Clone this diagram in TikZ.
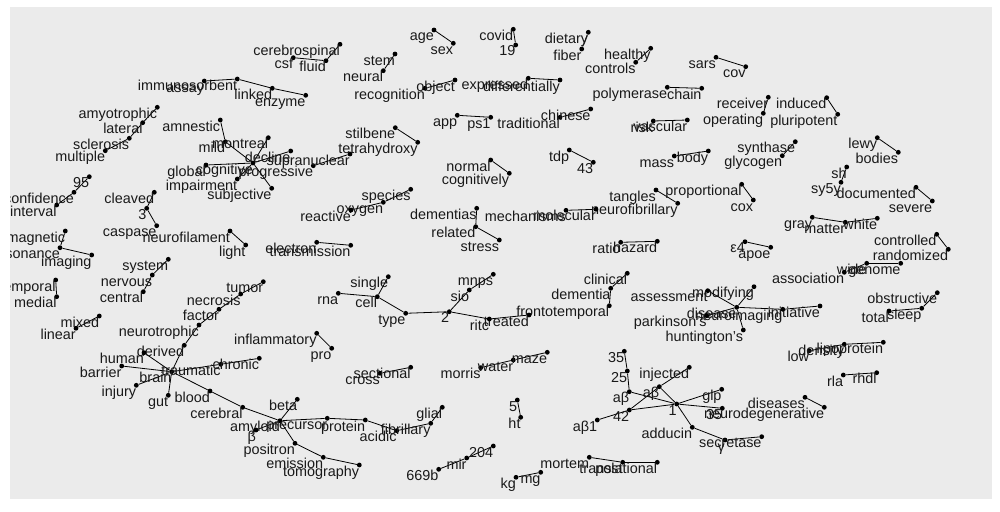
\documentclass[tikz,border=0pt]{standalone}
\usepackage{fontspec}
\setmainfont{Liberation Sans}
\usetikzlibrary{backgrounds}
\definecolor{panelgrey}{HTML}{EBEBEB}
\begin{document}
\begin{tikzpicture}[x=1pt,y=-1pt,
  dot/.style={circle,fill=black,inner sep=0pt,minimum size=4.8pt},
  word/.style={anchor=north east,inner sep=0pt,text height=1.08em,text depth=0.25em,
    font=\fontsize{14.4}{16}\selectfont,text=black!90},
  edge/.style={black,line width=0.8pt}]
  \useasboundingbox (0,0) rectangle (1000,511);
  \begin{pgfonlayer}{background}
    \fill[panelgrey] (10,7) rectangle (992,499);
  \end{pgfonlayer}
  \begin{scope}
    \clip (10,7) rectangle (992,499);
    \foreach \n/\x/\y/\w in {
      assay/204.3/81/assay, immuno/237.3/79/immunosorbent, linked/272.3/88.3/linked, enzyme/305.7/95.3/enzyme,
      amyo/157.3/107.3/amyotrophic, lateral/142.7/122.7/lateral, scler/129.3/138.3/sclerosis, multiple/105.3/150.7/multiple,
      amnestic/220.3/120/amnestic, mild/225.3/141.7/mild, montreal/268.3/137.7/montreal, decline/290.7/151/decline,
      cognitive/253/163/cognitive, global/206/165/global, impair/237.3/179/impairment, subj/271.7/188.3/subjective,
      progr/313.3/165.7/progressive, supra/350/154/supranuclear,
      csf/293.3/57.7/csf, fluid/326/60.7/fluid, cerebro/340/44.3/cerebrospinal,
      stem/395/54/stem, neural/383.3/70.7/neural, recog/425/88.3/recognition, object/455/80/object,
      age/434/30/age, sex/453.3/43.3/sex, app/457.3/115.3/app, ps/490.7/117.3/ps1,
      stilbene/395.3/127.7/stilbene, tetra/417.7/142.3/tetrahydroxy, normal/490.7/160/normal, cogly/509.3/173.3/cognitively,
      covid/513.3/29.3/covid, nineteen/515.7/45/19, dietary/588.3/32.3/dietary, fiber/581.7/49/fiber,
      healthy/650.7/48.3/healthy, controls/635.7/62.3/controls, sars/716/57.3/sars, cov/745.7/66.7/cov,
      expressed/528.3/78.3/expressed, diff/560/80/differentially, polym/667.3/87.3/polymerase, chain/701.7/88.3/chain,
      trad/560/117.3/traditional, chinese/590.7/109/chinese, risk/653.3/121/risk, vascular/687.3/120/vascular,
      tdp/569.3/150/tdp, fortythree/593.3/162.3/43, mass/674.3/156/mass, body/708.3/151/body,
      receiver/768.3/97.3/receiver, operating/763.3/113.3/operating, induced/826.7/97.7/induced, pluri/837.7/114.3/pluripotent,
      synthase/795.3/141.7/synthase, glycogen/782.3/155.7/glycogen, lewy/877.3/137.7/lewy, bodies/898.3/152.3/bodies,
      sh/846.7/167/sh, sysy/841/182.3/sy5y, documented/916/187.3/documented, severe/932.3/201/severe,
      propo/741.7/184.3/proportional, cox/753.3/200/cox, tangles/656/190/tangles, neurofib/677.7/203.3/neurofibrillary,
      molecular/596/209.3/molecular, mechan/566/210.3/mechanisms, ratio/620.7/242.3/ratio, hazard/657.3/241.3/hazard,
      clinical/627.3/273.3/clinical, dementia/610.7/288.3/dementia, fronto/609.3/305.7/frontotemporal,
      treated/529/315/treated, ritc/489.3/319/ritc, two/449.3/311.7/2, type/405.7/313.3/type, cell/377.3/296.7/cell,
      single/388.3/276.7/single, rna/338.3/293.3/rna, sio/469.3/290/sio, mnps/493.3/274.3/mnps,
      species/410.7/189.3/species, oxygen/383.3/202.3/oxygen, reactive/351/210/reactive,
      electron/316.7/242.3/electron, transm/350.7/245.3/transmission,
      dementias/476.7/208.3/dementias, related/475.7/226.7/related, stress/499.3/240/stress,
      epsfour/745/241.7/ε4, apoe/770.7/247.3/apoe, gray/812.3/217.3/gray, matter/845.3/222.3/matter, white/877.3/218.3/white,
      controlled/936.7/234.3/controlled, random/948.3/249.3/randomized, genome/900.7/263.3/genome, wide/866.7/263.3/wide,
      assoc/844.3/272.3/association, obstr/937.3/292.7/obstructive, sleep/921.7/308.3/sleep, total/889/311/total,
      initiative/820/306/initiative, neuroim/782.7/309.3/neuroimaging, modifying/754/286.7/modifying,
      disease/736.7/307.3/disease, parkinson/706.7/315.7/parkinson's, assess/707.7/290.7/assessment,
      hunting/743.3/330/huntington's, low/809.3/350.7/low, density/844.3/344.3/density, lipo/883.3/342.3/lipoprotein,
      rla/843.3/375/rla, rhdl/876.7/372.7/rhdl, diseases/805/397.3/diseases, neurodeg/824.3/407.3/neurodegenerative,
      ninetyfive/89.3/176.7/95, confid/74/192.3/confidence, interval/56.7/205/interval,
      cleaved/154.3/192.3/cleaved, three/146.7/208.3/3, caspase/156.7/225.7/caspase,
      magnetic/65.3/231/magnetic, reson/60/247.7/resonance, imaging/91.7/255/imaging,
      neurofil/230/231/neurofilament, light/245.7/245/light,
      system/168.3/259.3/system, nervous/152.3/275/nervous, central/143.3/291.7/central,
      temporal/55.7/280/temporal, medial/56.7/296.7/medial, mixed/99.3/316/mixed, linear/76/328.3/linear,
      tumor/263.3/281.7/tumor, necrosis/240.7/294/necrosis, factor/219/309.3/factor, neurotro/199/325/neurotrophic,
      derived/184.3/345.3/derived, human/144/352.7/human, brain/171.7/371.7/brain, barrier/121.7/366/barrier,
      injury/136.3/385.3/injury, gut/168.3/395.3/gut, blood/210/391/blood, traumatic/220.7/364.3/traumatic,
      chronic/259.3/358.3/chronic, cerebral/242.7/407.3/cerebral, amyloid/280/420.7/amyloid, beta/297.3/399.3/beta,
      betag/256/430/β, precursor/327.3/418.3/precursor, protein/365.3/420/protein, acidic/396.7/430.7/acidic,
      fibrillary/430.7/423.3/fibrillary, glial/442.3/407.3/glial, positron/295/443.3/positron,
      emission/323.3/457.3/emission, tomo/359.3/465/tomography, inflam/316.7/333.3/inflammatory, pro/331.7/348.3/pro,
      cross/380/373.3/cross, sectional/410.7/367.3/sectional, mir/466.7/458/mir, twofour/493.3/446/204,
      sixsixnine/438.7/469.3/669b, morris/480.7/367.7/morris, water/513.3/360/water, maze/547.3/352.3/maze,
      five/517.3/400/5, ht/520.7/417.3/ht, kg/516/477.3/kg, mg/540.7/472.3/mg,
      mortem/589.3/457.3/mortem, post/622.7/462.3/post, transl/657.3/462.3/translational,
      nthirtyfive/624.3/351.3/35, ntwentyfive/627.3/371/25, aba/629.3/391.7/aβ, abb/659.3/386.7/aβ,
      nfortytwo/629.3/410/42, one/676.7/404/1, injected/689.3/367.3/injected, glp/721.7/389.3/glp,
      nthirtyfiveb/722.3/408.3/35, adducin/692.3/427.3/adducin, gammag/725/440/γ,
      secretase/761.7/436.7/secretase, abone/597.3/420/aβ1}
      {\node[dot] (\n) at (\x,\y) {};
       \node[word] (\n-t) at (\x,\y) {\w};}
  \end{scope}
  \begin{pgfonlayer}{background}
    \foreach \a/\b in {assay/immuno, immuno/linked, linked/enzyme, amyo/lateral, lateral/scler, multiple/scler,
      amnestic/mild, mild/cognitive, montreal/cognitive, cognitive/decline, global/cognitive, cognitive/impair,
      subj/cognitive, progr/supra, csf/fluid, fluid/cerebro, stem/neural, object/recog, age/sex, app/ps,
      stilbene/tetra, normal/cogly, covid/nineteen, dietary/fiber, healthy/controls, sars/cov, expressed/diff,
      polym/chain, trad/chinese, risk/vascular, tdp/fortythree, mass/body, receiver/operating, induced/pluri,
      synthase/glycogen, lewy/bodies, sh/sysy, documented/severe, propo/cox, tangles/neurofib, molecular/mechan,
      ratio/hazard, clinical/dementia, dementia/fronto, treated/ritc, ritc/two, two/type, type/cell, cell/single,
      cell/rna, two/sio, sio/mnps, species/oxygen, oxygen/reactive, electron/transm, dementias/related,
      related/stress, epsfour/apoe, gray/matter, matter/white, controlled/random, genome/wide, wide/assoc,
      obstr/sleep, total/sleep, initiative/neuroim, neuroim/disease, modifying/disease, disease/parkinson,
      disease/assess, disease/hunting, low/density, density/lipo, rla/rhdl, diseases/neurodeg,
      ninetyfive/confid, confid/interval, cleaved/three, three/caspase, magnetic/reson, reson/imaging,
      neurofil/light, system/nervous, nervous/central, temporal/medial, mixed/linear, tumor/necrosis,
      necrosis/factor, factor/neurotro, neurotro/derived, derived/brain, human/brain, barrier/brain, injury/brain,
      gut/brain, blood/brain, brain/traumatic, traumatic/chronic, blood/cerebral, cerebral/amyloid, amyloid/beta,
      amyloid/betag, amyloid/precursor, precursor/protein, protein/acidic, acidic/fibrillary, fibrillary/glial,
      amyloid/positron, positron/emission, emission/tomo, inflam/pro, cross/sectional, mir/twofour,
      mir/sixsixnine, morris/water, water/maze, five/ht, kg/mg, mortem/post, post/transl,
      nthirtyfive/ntwentyfive, ntwentyfive/aba, aba/one, abone/nfortytwo, nfortytwo/one, nfortytwo/abb,
      injected/abb, abb/one, glp/one, nthirtyfiveb/one, one/adducin, adducin/gammag, gammag/secretase}
      \draw[edge] (\a) -- (\b);
  \end{pgfonlayer}
\end{tikzpicture}
\end{document}
